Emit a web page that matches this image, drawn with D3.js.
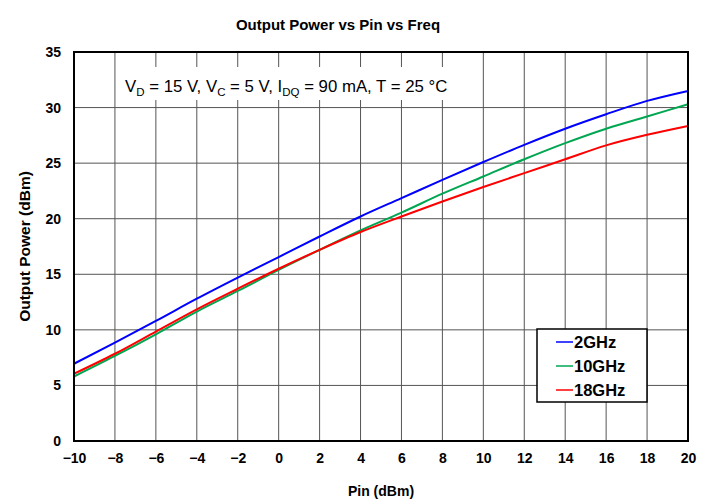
<!DOCTYPE html>
<html lang="en">
<head>
<meta charset="utf-8">
<title>Output Power vs Pin vs Freq</title>
<script src="https://cdn.jsdelivr.net/npm/d3@7"></script>
<style>
	body { margin: 0; background: #fff; }
	svg text { font-family: "Liberation Sans", Arial, sans-serif; }
	.tick text { font-size: 14px; font-weight: bold; }
</style>
</head>
<body>
<script>
// input power (dBm) and output power per frequency (dBm)
var pin = [-10, -8, -6, -4, -2, 0, 2, 4, 6, 8, 10, 12, 14, 16, 18, 20];
var out2GHz  = [6.95, 8.85, 10.8, 12.8, 14.7, 16.55, 18.4, 20.2, 21.85, 23.5, 25.1, 26.65, 28.1, 29.4, 30.6, 31.5];
var out10GHz = [5.8, 7.65, 9.6, 11.65, 13.5, 15.4, 17.2, 18.95, 20.55, 22.25, 23.8, 25.35, 26.8, 28.1, 29.2, 30.3];
var out18GHz = [6.05, 7.85, 9.85, 11.85, 13.7, 15.5, 17.2, 18.8, 20.2, 21.55, 22.85, 24.1, 25.35, 26.6, 27.55, 28.35];
var seriesNames = ["2GHz", "10GHz", "18GHz"];
var xTicks = [-10, -8, -6, -4, -2, 0, 2, 4, 6, 8, 10, 12, 14, 16, 18, 20];
var yTicks = [0, 5, 10, 15, 20, 25, 30, 35];

var width = 711, height = 502;
var margin = { left: 74, right: 23, top: 52, bottom: 61 };

var svg = d3.select("body").append("svg")
	.attr("width", width)
	.attr("height", height);

var x = d3.scaleLinear().domain([-10, 20]).range([margin.left, width - margin.right]);
var y = d3.scaleLinear().domain([0, 35]).range([height - margin.bottom, margin.top]);

// grid
var grid = svg.append("g");
grid.selectAll(".vg").data(xTicks).enter().append("line")
	.attr("x1", d => x(d)).attr("x2", d => x(d))
	.attr("y1", y(0)).attr("y2", y(35))
	.attr("stroke", "#555").attr("stroke-width", 1);
grid.selectAll(".hg").data(yTicks).enter().append("line")
	.attr("x1", x(-10)).attr("x2", x(20))
	.attr("y1", d => y(d)).attr("y2", d => y(d))
	.attr("stroke", "#555").attr("stroke-width", 1);

// conditions label sits on a white patch over the grid
var note = svg.append("g");
note.append("rect")
	.attr("x", 120).attr("y", 67).attr("width", 334).attr("height", 33)
	.attr("fill", "#fff");
var noteText = note.append("text")
	.attr("x", 125).attr("y", 92)
	.style("font-size", "16.8px");
[["V", ""], ["D", "sub"], [" = 15 V, V", ""], ["C", "sub"], [" = 5 V, I", ""], ["DQ", "sub"], [" = 90 mA, T = 25 °C", ""]]
	.forEach(function (p, i, arr) {
		var t = noteText.append("tspan").text(p[0]);
		if (p[1] === "sub") {
			t.attr("dy", 4).style("font-size", "11.5px");
		} else if (i > 0 && arr[i - 1][1] === "sub") {
			t.attr("dy", -4);
		}
	});

// curves
var colors = ["#0000ff", "#00a651", "#ff0000"];
var allSeries = [out2GHz, out10GHz, out18GHz];
var line = d3.line()
	.x((d, i) => x(pin[i]))
	.y(d => y(d))
	.curve(d3.curveMonotoneX);

svg.append("g").selectAll("path").data(allSeries).enter().append("path")
	.attr("d", line)
	.attr("fill", "none")
	.attr("stroke", (d, i) => colors[i])
	.attr("stroke-width", 2);

// frame
svg.append("rect")
	.attr("x", x(-10)).attr("y", y(35))
	.attr("width", x(20) - x(-10)).attr("height", y(0) - y(35))
	.attr("fill", "none").attr("stroke", "#000").attr("stroke-width", 2);

// axes
var xAxis = svg.append("g")
	.attr("transform", "translate(0," + y(0) + ")")
	.call(d3.axisBottom(x).tickValues(xTicks).tickSize(0).tickPadding(12));
xAxis.select(".domain").remove();

var yAxis = svg.append("g")
	.attr("transform", "translate(" + x(-10) + ",0)")
	.call(d3.axisLeft(y).tickValues(yTicks).tickSize(0).tickPadding(13));
yAxis.select(".domain").remove();
svg.selectAll(".tick text").attr("fill", "#000");

// titles
svg.append("text")
	.attr("x", 338).attr("y", 30)
	.attr("text-anchor", "middle")
	.style("font-size", "15px").style("font-weight", "bold")
	.text("Output Power vs Pin vs Freq");

svg.append("text")
	.attr("x", 381).attr("y", 496)
	.attr("text-anchor", "middle")
	.style("font-size", "14px").style("font-weight", "bold")
	.text("Pin (dBm)");

svg.append("text")
	.attr("transform", "translate(30," + ((y(0) + y(35)) / 2) + ") rotate(-90)")
	.attr("text-anchor", "middle")
	.style("font-size", "15.5px").style("font-weight", "bold")
	.text("Output Power (dBm)");

// legend
var legend = svg.append("g");
legend.append("rect")
	.attr("x", 537).attr("y", 329).attr("width", 110).attr("height", 73)
	.attr("fill", "#fff").attr("stroke", "#000").attr("stroke-width", 1.5);
var rows = legend.selectAll(".row").data(seriesNames).enter().append("g")
	.attr("transform", (d, i) => "translate(556," + (342 + i * 24) + ")");
rows.append("line")
	.attr("x1", 0).attr("x2", 17)
	.attr("stroke", (d, i) => colors[i]).attr("stroke-width", 1.5);
rows.append("text")
	.attr("x", 18).attr("y", 6)
	.style("font-size", "16.5px").style("font-weight", "bold")
	.text(d => d);
</script>
</body>
</html>
